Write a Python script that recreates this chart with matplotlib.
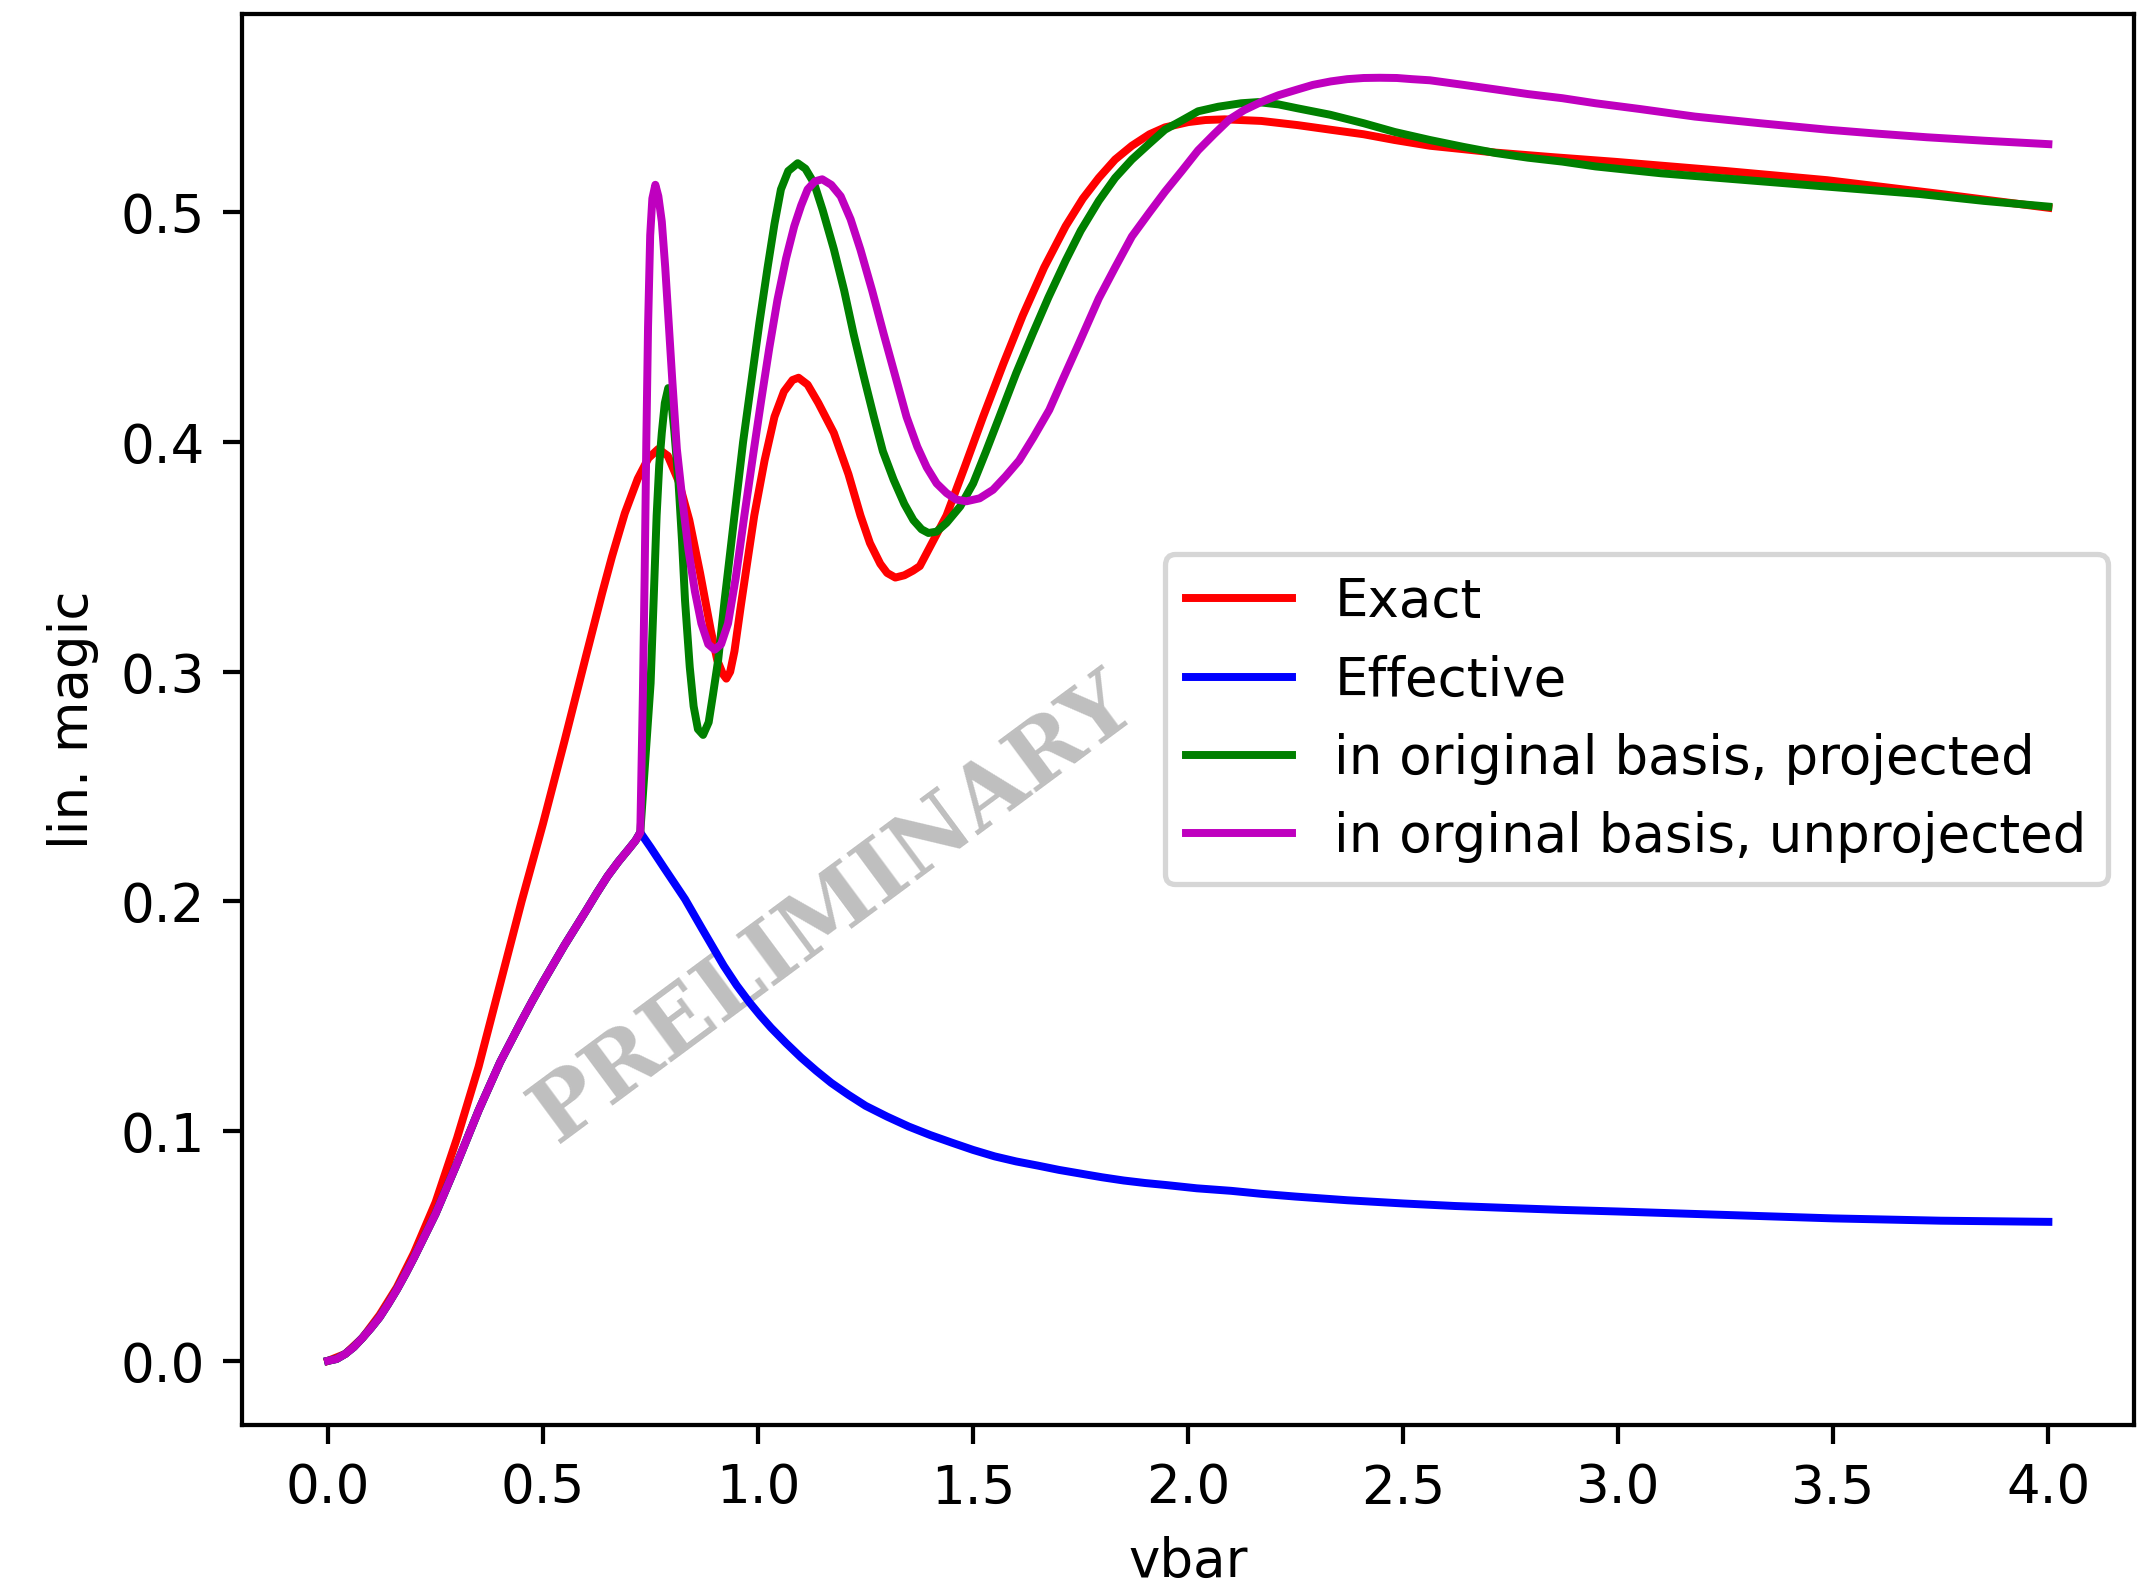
import matplotlib
matplotlib.use("Agg")
import matplotlib.pyplot as plt

# ---- shared rise (all approximations coincide up to the level crossing) ----
x_rise = [0.0, 0.02, 0.04, 0.06, 0.08, 0.10, 0.12, 0.14, 0.16, 0.18, 0.20,
          0.225, 0.25, 0.275, 0.30, 0.325, 0.35, 0.375, 0.40, 0.425, 0.45,
          0.475, 0.50, 0.525, 0.55, 0.575, 0.60, 0.625, 0.65, 0.675, 0.70,
          0.715, 0.726]
y_rise = [0.0, 0.0008, 0.003, 0.006, 0.010, 0.0143, 0.019, 0.0248, 0.031,
          0.0378, 0.045, 0.0545, 0.064, 0.075, 0.086, 0.0975, 0.109, 0.1195,
          0.130, 0.139, 0.148, 0.1567, 0.165, 0.173, 0.181, 0.1885, 0.196,
          0.2037, 0.211, 0.2173, 0.223, 0.2265, 0.230]

# ---- Exact ----
x_exact = [0.0, 0.04, 0.08, 0.12, 0.16, 0.20, 0.25, 0.30, 0.35, 0.40, 0.45,
           0.50, 0.55, 0.60, 0.637, 0.66, 0.69, 0.72, 0.745, 0.768, 0.79,
           0.815, 0.84, 0.865, 0.89, 0.905, 0.918, 0.926, 0.935, 0.945, 0.96,
           0.975, 0.991, 1.015, 1.038, 1.06, 1.08, 1.094, 1.115, 1.14, 1.176,
           1.21, 1.238, 1.26, 1.284, 1.30, 1.319, 1.34, 1.36, 1.376, 1.407,
           1.438, 1.48, 1.523, 1.57, 1.615, 1.665, 1.715, 1.755, 1.792, 1.83,
           1.869, 1.91, 1.946, 2.0, 2.04, 2.085, 2.17, 2.254, 2.33, 2.408,
           2.48, 2.562, 2.64, 2.716, 2.85, 2.993, 3.25, 3.486, 3.75, 4.0]
y_exact = [0.0, 0.003, 0.010, 0.020, 0.032, 0.047, 0.069, 0.097, 0.128, 0.164,
           0.200, 0.234, 0.270, 0.307, 0.334, 0.350, 0.369, 0.384, 0.393, 0.397,
           0.394, 0.383, 0.366, 0.343, 0.318, 0.305, 0.299, 0.297, 0.300, 0.309,
           0.329, 0.348, 0.368, 0.392, 0.411, 0.422, 0.427, 0.428, 0.425, 0.417,
           0.404, 0.386, 0.368, 0.356, 0.347, 0.343, 0.341, 0.342, 0.344, 0.346,
           0.357, 0.368, 0.389, 0.411, 0.434, 0.455, 0.476, 0.494, 0.506, 0.515,
           0.523, 0.529, 0.534, 0.537, 0.5393, 0.5402, 0.5405, 0.5398, 0.538,
           0.536, 0.534, 0.5315, 0.529, 0.5275, 0.526, 0.524, 0.522, 0.518,
           0.514, 0.508, 0.502]

# ---- Effective ----
x_eff_tail = [0.75, 0.78, 0.805, 0.83, 0.85, 0.87, 0.895, 0.92, 0.95, 0.98,
              1.005, 1.03, 1.065, 1.10, 1.135, 1.17, 1.21, 1.25, 1.30, 1.35,
              1.40, 1.45, 1.50, 1.55, 1.60, 1.65, 1.70, 1.75, 1.80, 1.85, 1.90,
              1.95, 2.02, 2.1, 2.17, 2.25, 2.37, 2.5, 2.62, 2.75, 2.87, 3.0,
              3.25, 3.5, 3.75, 4.0]
y_eff_tail = [0.2235, 0.215, 0.208, 0.201, 0.1945, 0.188, 0.180, 0.172,
              0.1635, 0.156, 0.1503, 0.145, 0.1383, 0.132, 0.1263, 0.121,
              0.1158, 0.111, 0.1063, 0.102, 0.0983, 0.095, 0.0918, 0.089,
              0.0868, 0.085, 0.0831, 0.0815, 0.0799, 0.0785, 0.0774, 0.0765,
              0.0751, 0.074, 0.0727, 0.0715, 0.0699, 0.0685, 0.0674, 0.0665,
              0.0657, 0.065, 0.0635, 0.062, 0.061, 0.0605]

# ---- in original basis, projected ----
x_proj_tail = [0.74, 0.75, 0.757, 0.764, 0.770, 0.776, 0.783, 0.791, 0.798,
               0.805, 0.815, 0.823, 0.830, 0.841, 0.850, 0.860, 0.872, 0.885,
               0.895, 0.907, 0.922, 0.945, 0.965, 0.984, 1.003, 1.022, 1.038,
               1.053, 1.07, 1.092, 1.11, 1.13, 1.15, 1.176, 1.20, 1.222, 1.245,
               1.269, 1.29, 1.315, 1.34, 1.361, 1.38, 1.396, 1.415, 1.438, 1.47,
               1.50, 1.53, 1.561, 1.60, 1.638, 1.675, 1.715, 1.75, 1.792, 1.83,
               1.869, 1.91, 1.946, 1.985, 2.023, 2.07, 2.123, 2.162, 2.21,
               2.254, 2.33, 2.408, 2.48, 2.562, 2.64, 2.716, 2.79, 2.87, 2.947,
               3.1, 3.3, 3.486, 3.7, 3.85, 4.0]
y_proj_tail = [0.268, 0.295, 0.331, 0.368, 0.390, 0.404, 0.417, 0.4235, 0.418,
               0.405, 0.382, 0.357, 0.331, 0.302, 0.285, 0.275, 0.2725, 0.278,
               0.290, 0.305, 0.331, 0.368, 0.400, 0.426, 0.452, 0.476, 0.495,
               0.510, 0.518, 0.5214, 0.519, 0.5127, 0.501, 0.484, 0.466, 0.447,
               0.429, 0.411, 0.396, 0.3836, 0.373, 0.366, 0.362, 0.3604, 0.361,
               0.3648, 0.372, 0.382, 0.396, 0.411, 0.430, 0.447, 0.463, 0.479,
               0.492, 0.505, 0.515, 0.523, 0.530, 0.536, 0.540, 0.544, 0.546,
               0.5475, 0.548, 0.547, 0.5453, 0.5425, 0.5388, 0.535, 0.5315,
               0.5285, 0.5258, 0.5238, 0.5221, 0.520, 0.517, 0.514, 0.5112,
               0.508, 0.505, 0.5025]

# ---- in orginal basis, unprojected ----
x_unproj_tail = [0.728, 0.732, 0.736, 0.740, 0.744, 0.749, 0.754, 0.761, 0.768,
                 0.776, 0.784, 0.791, 0.80, 0.811, 0.825, 0.838, 0.853, 0.868,
                 0.884, 0.899, 0.914, 0.930, 0.948, 0.968, 0.988, 1.007, 1.026,
                 1.045, 1.065, 1.084, 1.10, 1.115, 1.132, 1.149, 1.17, 1.192,
                 1.215, 1.238, 1.265, 1.292, 1.32, 1.345, 1.37, 1.392, 1.415,
                 1.438, 1.46, 1.484, 1.515, 1.546, 1.575, 1.607, 1.64, 1.677,
                 1.71, 1.746, 1.792, 1.83, 1.869, 1.91, 1.946, 1.985, 2.023,
                 2.06, 2.096, 2.13, 2.169, 2.21, 2.254, 2.29, 2.331, 2.37, 2.408,
                 2.445, 2.485, 2.52, 2.562, 2.64, 2.716, 2.79, 2.87, 2.947, 3.05,
                 3.178, 3.33, 3.486, 3.6, 3.717, 3.85, 4.0]
y_unproj_tail = [0.250, 0.290, 0.340, 0.400, 0.450, 0.490, 0.506, 0.512, 0.507,
                 0.496, 0.476, 0.455, 0.428, 0.397, 0.373, 0.353, 0.335, 0.321,
                 0.312, 0.3096, 0.312, 0.321, 0.341, 0.368, 0.394, 0.418, 0.441,
                 0.462, 0.480, 0.494, 0.503, 0.510, 0.5135, 0.5144, 0.512, 0.507,
                 0.497, 0.4837, 0.466, 0.447, 0.428, 0.411, 0.398, 0.389, 0.382,
                 0.3778, 0.375, 0.3742, 0.3755, 0.3792, 0.385, 0.392, 0.402,
                 0.414, 0.428, 0.443, 0.4625, 0.476, 0.4895, 0.500, 0.509,
                 0.518, 0.527, 0.534, 0.5405, 0.5445, 0.548, 0.551, 0.5535,
                 0.5555, 0.557, 0.558, 0.5585, 0.5586, 0.5585, 0.558, 0.5575,
                 0.5555, 0.5535, 0.5515, 0.5497, 0.5475, 0.545, 0.5417, 0.5388,
                 0.536, 0.5343, 0.5327, 0.5312, 0.5297]

labels = ["Exact", "Effective", "in original basis, projected",
          "in orginal basis, unprojected"]

DPI = 381.4
fig = plt.figure(figsize=(2148.4 / DPI, 1579.4 / DPI), dpi=DPI)
ax = fig.add_axes([0.11266, 0.09753, 0.88082, 0.89360])

ax.plot(x_exact, y_exact, color="r", label=labels[0])
ax.plot(x_rise + x_eff_tail, y_rise + y_eff_tail, color="b", label=labels[1])
ax.plot(x_rise + x_proj_tail, y_rise + y_proj_tail, color="g", label=labels[2])
ax.plot(x_rise + x_unproj_tail, y_rise + y_unproj_tail, color="m",
        label=labels[3])

# watermark behind the curves
ax.text(1.175, 0.197, "PRELIMINARY", family="DejaVu Serif",
        fontweight="bold", fontsize=16.5, color="gray", alpha=0.5,
        rotation=36.5, ha="center", va="center", rotation_mode="anchor",
        zorder=1)

ax.set_xlabel("vbar")
ax.set_ylabel("lin. magic")
ax.legend(loc="center right")

fig.savefig("out.png", dpi=DPI)
